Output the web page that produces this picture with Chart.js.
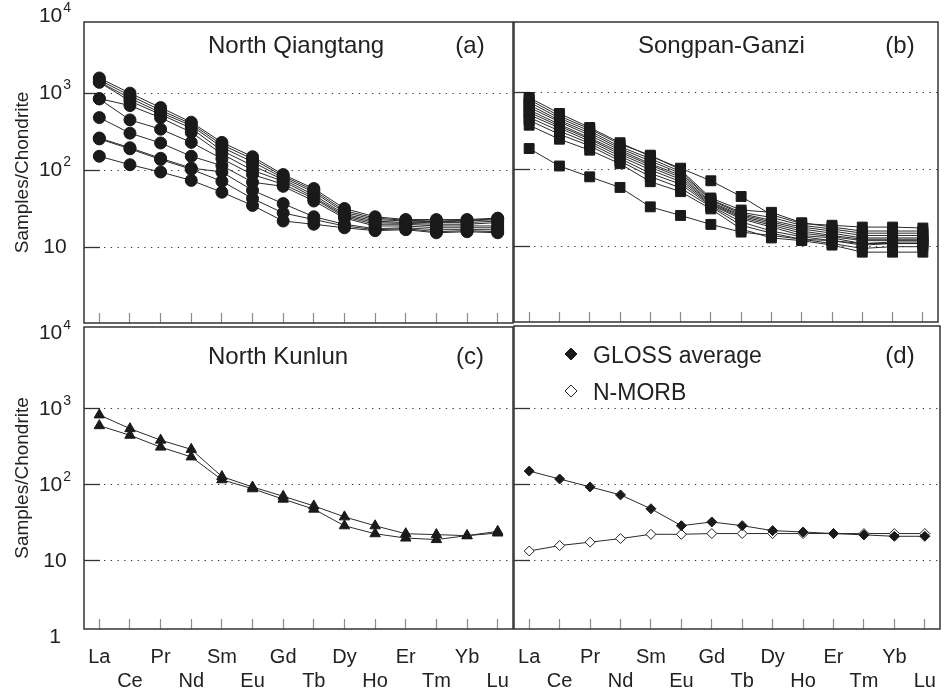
<!DOCTYPE html>
<html>
<head>
<meta charset="utf-8">
<title>REE patterns</title>
<script src="https://cdn.jsdelivr.net/npm/chart.js@4.4.0/dist/chart.umd.min.js"></script>
<style>
  html, body { margin: 0; padding: 0; background: #fff; }
  #wrap { position: relative; width: 946px; height: 695px; overflow: hidden; }
  #wrap canvas { position: absolute; }
</style>
</head>
<body>
<div id="wrap">
  <canvas id="panel-a" width="520" height="330" style="left:0px;top:0px"></canvas>
  <canvas id="panel-b" width="442" height="330" style="left:504px;top:0px"></canvas>
  <canvas id="panel-c" width="520" height="375" style="left:0px;top:320px"></canvas>
  <canvas id="panel-d" width="442" height="375" style="left:504px;top:320px"></canvas>
</div>
<script>
// Rare earth elements, chondrite-normalised
const elements = ['La', 'Ce', 'Pr', 'Nd', 'Sm', 'Eu', 'Gd', 'Tb', 'Dy', 'Ho', 'Er', 'Tm', 'Yb', 'Lu'];

// (a) North Qiangtang samples
const northQiangtang = [
    [1570, 1000, 650, 420, 230, 150, 88, 58, 32, 25, 23, 23, 23, 24],
    [1480, 930, 600, 400, 215, 140, 84, 55, 30, 24, 22.5, 22, 22.5, 23.5],
    [1400, 860, 560, 380, 199, 128, 80, 52, 28.5, 23, 22, 21.5, 22, 23],
    [1380, 790, 530, 350, 180, 115, 76, 48, 27, 22, 21, 21, 21, 22],
    [850, 690, 480, 310, 163, 100, 72, 45, 26, 21, 20.5, 20, 20, 21],
    [840, 450, 341, 230, 141, 88, 66, 43, 25, 20, 20, 19, 19, 19],
    [482, 303, 226, 152, 115, 70, 62, 40, 24, 19, 19, 18, 18, 18],
    [262, 196, 143, 107, 95, 55, 37, 25, 20, 17.5, 18, 17, 17, 17],
    [255, 190, 138, 103, 72, 43, 28, 23, 19, 17, 17.5, 16, 16.5, 16],
    [152, 118, 95, 74, 52, 35, 22, 20, 18, 16.5, 17, 15.5, 16, 15.5]
];

// (b) Songpan-Ganzi samples
const songpanGanzi = [
    [870, 540, 355, 225, 150, 105, 72, 45, 26, 20, 19, 18, 18, 17.5],
    [820, 500, 340, 215, 155, 100, 43, 30, 28, 20.5, 18, 16, 16, 16],
    [760, 470, 320, 200, 140, 95, 41, 28, 24, 19, 17, 15, 15, 15],
    [700, 440, 300, 190, 130, 90, 40, 27, 22, 18, 16, 14, 14, 14],
    [650, 420, 280, 180, 120, 85, 38, 26, 21, 17, 15, 13, 13, 13],
    [600, 390, 260, 170, 115, 80, 37, 25, 20, 16, 14, 12.5, 12.5, 12.5],
    [560, 370, 250, 160, 108, 75, 36, 24, 19, 15, 13.5, 12, 12, 12],
    [520, 350, 235, 150, 100, 70, 35, 23, 18, 14, 13, 11, 11.5, 11.5],
    [480, 320, 220, 140, 90, 65, 34, 21, 16, 13.5, 12, 10.5, 11, 11],
    [440, 290, 205, 130, 82, 58, 33, 19, 15, 12.5, 11, 9.5, 10, 10],
    [380, 250, 180, 120, 70, 52, 31, 17, 13, 12, 10.5, 8.5, 8.5, 8.5],
    [189, 112, 81, 59, 33, 25.5, 19.5, 15.5, 14, 12.5, 12, 11, 11, 11]
];

// (c) North Kunlun samples
const northKunlun = [
    [836, 551, 389, 294, 129, 94, 71, 53, 38, 29, 22.8, 22.2, 21.5, 24.5],
    [603, 451, 315, 234, 117, 89, 65, 48, 29, 22.8, 20, 19.1, 21.5, 23.3]
];

// (d) reference compositions
const glossAverage = [150, 118, 93, 73, 48, 28.8, 32.2, 28.8, 24.8, 23.8, 22.7, 21.8, 20.9, 20.9];
const nMorb = [13.4, 15.8, 17.5, 19.5, 22.2, 22.2, 22.7, 22.7, 22.7, 22.7, 22.7, 22.7, 22.7, 22.7];

// decades on the log axis
const topDecades = [10, 100, 1000, 10000];
const bottomDecades = [1, 10, 100, 1000, 10000];

const FONT = '"Liberation Sans", Arial, Helvetica, sans-serif';
Chart.defaults.font.family = FONT;
Chart.defaults.color = '#222';

// titles, tags, legend, power-of-ten labels and frame drawn on top of each panel
const panelText = {
    id: 'panelText',
    afterDraw(chart, args, opts) {
        const { ctx, chartArea } = chart;
        ctx.save();
        ctx.fillStyle = '#222';

        // y labels as 10 with a raised exponent
        if (opts.decades) {
            const scale = chart.scales.y;
            const cx = chartArea.left - 29;
            ctx.textBaseline = 'middle';
            opts.decades.forEach(v => {
                const y = scale.getPixelForValue(v);
                const exp = Math.round(Math.log10(v));
                ctx.font = '21px ' + FONT;
                if (exp < 2) {
                    ctx.textAlign = 'center';
                    ctx.fillText(String(v), cx, y);
                    return;
                }
                const base = ctx.measureText('10').width;
                ctx.font = '14px ' + FONT;
                const sup = ctx.measureText(String(exp)).width;
                const x0 = cx - (base + sup + 1) / 2;
                ctx.textAlign = 'left';
                ctx.fillText(String(exp), x0 + base + 1, y - 8);
                ctx.font = '21px ' + FONT;
                ctx.fillText('10', x0, y);
            });
        }

        ctx.textBaseline = 'alphabetic';
        ctx.font = '24px ' + FONT;
        if (opts.title) {
            ctx.textAlign = 'left';
            ctx.fillText(opts.title, chartArea.left + 124, chartArea.top + opts.baseline);
        }
        if (opts.tag) {
            ctx.textAlign = 'center';
            ctx.fillText(opts.tag, chartArea.left + 386, chartArea.top + opts.baseline);
        }
        if (opts.legend) {
            ctx.font = '23px ' + FONT;
            chart.data.datasets.forEach((ds, i) => {
                const y = chartArea.top + 28 + i * 37;
                ctx.fillStyle = ds.pointBackgroundColor;
                ctx.strokeStyle = ds.pointBorderColor;
                ctx.lineWidth = 1;
                Chart.helpers.drawPoint(ctx, { pointStyle: ds.pointStyle, radius: 6, rotation: 0, borderWidth: 1 }, chartArea.left + 57, y);
                ctx.fillStyle = '#222';
                ctx.textAlign = 'left';
                ctx.fillText(ds.label, chartArea.left + 79, y + 8.5);
            });
        }
        ctx.strokeStyle = '#333';
        ctx.lineWidth = 1.5;
        ctx.strokeRect(chartArea.left, chartArea.top, chartArea.width, chartArea.height);
        ctx.restore();
    }
};

function sampleLines(rows, pointStyle, radius) {
    return rows.map(values => ({
        data: values,
        borderColor: '#2a2a2a',
        borderWidth: 1,
        pointStyle: pointStyle,
        pointRadius: radius,
        pointBackgroundColor: '#1a1a1a',
        pointBorderColor: '#1a1a1a',
        pointBorderWidth: 1
    }));
}

// no grid line or tick at the frame edges
function innerOnly(ctx) {
    const v = ctx.tick ? ctx.tick.value : 0;
    return v >= 10000 || v < ctx.scale.min ? 'rgba(0,0,0,0)' : '#333';
}

function panelChart(id, opts) {
    const ctx = document.getElementById(id).getContext('2d');
    return new Chart(ctx, {
        type: 'line',
        data: { labels: elements, datasets: opts.datasets },
        options: {
            responsive: false,
            animation: false,
            events: [],
            layout: { padding: opts.padding },
            elements: { line: { tension: 0 } },
            plugins: {
                legend: { display: false },
                tooltip: { enabled: false },
                panelText: Object.assign({ decades: opts.yLabels ? opts.yTicks : null }, opts.text)
            },
            scales: {
                x: {
                    type: 'category',
                    offset: true,
                    afterFit: s => {
                        s.height = opts.xLabels ? 66 : 5;
                        s.paddingLeft = 0;
                        s.paddingRight = 0;
                    },
                    border: { display: false },
                    grid: {
                        offset: false,
                        drawOnChartArea: false,
                        drawTicks: true,
                        tickLength: -10,
                        tickColor: '#8a8a8a',
                        tickWidth: 1.2
                    },
                    ticks: {
                        display: opts.xLabels,
                        autoSkip: false,
                        maxRotation: 0,
                        padding: 26,
                        color: '#222',
                        font: { size: 20 },
                        callback: (v, i) => i % 2 === 0 ? [elements[i], ''] : ['', elements[i]]
                    }
                },
                y: {
                    type: 'logarithmic',
                    min: opts.yMin,
                    max: opts.yMax,
                    afterBuildTicks: s => {
                        s.ticks = opts.yTicks.map(v => ({ value: v }));
                    },
                    afterFit: s => {
                        s.width = opts.yLabels ? 84 : 10;
                        s.paddingTop = 0;
                        s.paddingBottom = 0;
                    },
                    border: { display: false, dash: [1.3, 5.4] },
                    grid: {
                        color: innerOnly,
                        lineWidth: 1,
                        drawTicks: true,
                        tickLength: -16,
                        tickColor: innerOnly,
                        tickWidth: 1.3,
                        tickBorderDash: []
                    },
                    ticks: { display: false },
                    title: {
                        display: opts.yLabels,
                        text: 'Samples/Chondrite',
                        color: '#222',
                        font: { size: 19 },
                        padding: { top: 11, bottom: 0 }
                    }
                }
            }
        },
        plugins: [panelText]
    });
}

const topRange = { yMin: 1.05, yMax: 8350, yTicks: topDecades };
const bottomRange = { yMin: 1.27, yMax: 12000, yTicks: bottomDecades };

panelChart('panel-a', Object.assign({
    datasets: sampleLines(northQiangtang, 'circle', 6),
    padding: { left: 0, top: 22, right: 6, bottom: 0 },
    xLabels: false, yLabels: true,
    text: { title: 'North Qiangtang', tag: '(a)', baseline: 31 }
}, topRange));

panelChart('panel-b', Object.assign({
    datasets: sampleLines(songpanGanzi, 'rect', 7),
    padding: { left: 0, top: 22, right: 2, bottom: 0 },
    xLabels: false, yLabels: false,
    text: { title: 'Songpan-Ganzi', tag: '(b)', baseline: 31 }
}, topRange));

panelChart('panel-c', Object.assign({
    datasets: sampleLines(northKunlun, 'triangle', 6),
    padding: { left: 0, top: 5, right: 6, bottom: 0 },
    xLabels: true, yLabels: true,
    text: { title: 'North Kunlun', tag: '(c)', baseline: 37 }
}, bottomRange));

panelChart('panel-d', Object.assign({
    datasets: [
        {
            label: 'GLOSS average',
            data: glossAverage,
            borderColor: '#2a2a2a',
            borderWidth: 1,
            pointStyle: 'rectRot',
            pointRadius: 5,
            pointBackgroundColor: '#1a1a1a',
            pointBorderColor: '#1a1a1a',
            pointBorderWidth: 1
        },
        {
            label: 'N-MORB',
            data: nMorb,
            borderColor: '#2a2a2a',
            borderWidth: 1,
            pointStyle: 'rectRot',
            pointRadius: 5,
            pointBackgroundColor: '#ffffff',
            pointBorderColor: '#222222',
            pointBorderWidth: 1
        }
    ],
    padding: { left: 0, top: 5, right: 2, bottom: 0 },
    xLabels: true, yLabels: false,
    text: { tag: '(d)', baseline: 37, legend: true }
}, bottomRange));
</script>
</body>
</html>
